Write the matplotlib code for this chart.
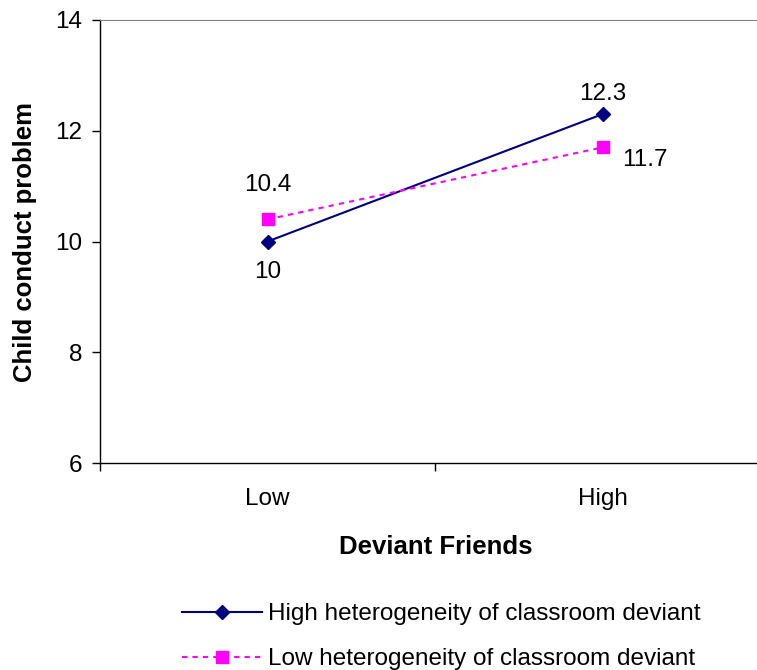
import matplotlib
matplotlib.use("Agg")
import matplotlib.pyplot as plt

plt.rcParams['font.family'] = ['Liberation Sans', 'DejaVu Sans']

categories = ["Low", "High"]
high_het = [10.0, 12.3]
low_het = [10.4, 11.7]
high_labels = ["10", "12.3"]
low_labels = ["10.4", "11.7"]
series_names = ["High heterogeneity of classroom deviant",
                "Low heterogeneity of classroom deviant"]

W, H = 757, 670
fs = 17.5
fig = plt.figure(figsize=(W / 100, H / 100), dpi=100)
# plot box: x 100..770 px (right edge runs off the image), y 20..463 px
ax = fig.add_axes([100 / W, 1 - 463 / H, 670 / W, 443 / H])

x = list(range(len(categories)))
ax.plot(x, high_het, color="#000080", lw=1.5, marker="D", ms=7,
        label=series_names[0])
ax.plot(x, low_het, color="#FF00FF", lw=1.5, ls=(0, (2.5, 2.5)), marker="s",
        ms=8, label=series_names[1])

ax.set_xlim(-0.5, 1.5)
ax.set_ylim(6, 14)
ax.set_yticks([6, 8, 10, 12, 14])
ax.set_xticks(x)
ax.set_xticklabels(categories)
ax.set_xticks([-0.5, 0.5, 1.5], minor=True)
ax.tick_params(axis="x", which="major", length=0, pad=18, labelsize=fs)
ax.tick_params(axis="x", which="minor", length=6, width=1, direction="out")
ax.tick_params(axis="y", length=6, width=1, direction="out", pad=7, labelsize=fs)

for s in ["left", "bottom"]:
    ax.spines[s].set_color("#000000")
    ax.spines[s].set_linewidth(1)
ax.spines["top"].set_color("#808080")
ax.spines["right"].set_color("#808080")

# value labels (offsets in pixels)
offsets_high = [(0, -31), (0, 20)]
offsets_low = [(0, 34), (42, -13)]
for xi, yv, lab, off in zip(x, high_het, high_labels, offsets_high):
    ax.annotate(lab, (xi, yv), xytext=off, textcoords="offset pixels",
                ha="center", va="center", fontsize=fs)
for xi, yv, lab, off in zip(x, low_het, low_labels, offsets_low):
    ax.annotate(lab, (xi, yv), xytext=off, textcoords="offset pixels",
                ha="center", va="center", fontsize=fs)

fig.text(25 / W, 1 - 242 / H, "Child conduct problem", rotation=90,
         ha="center", va="center", fontsize=18.5, fontweight="bold")
fig.text(436 / W, 1 - 547 / H, "Deviant Friends",
         ha="center", va="center", fontsize=18.5, fontweight="bold")

fig.legend(loc="upper left", bbox_to_anchor=(182 / W, 1 - 603 / H),
           frameon=False, fontsize=fs, handlelength=3.3, handletextpad=0.25,
           labelspacing=0.95, borderaxespad=0, borderpad=0)

fig.savefig("out.png", dpi=100)
